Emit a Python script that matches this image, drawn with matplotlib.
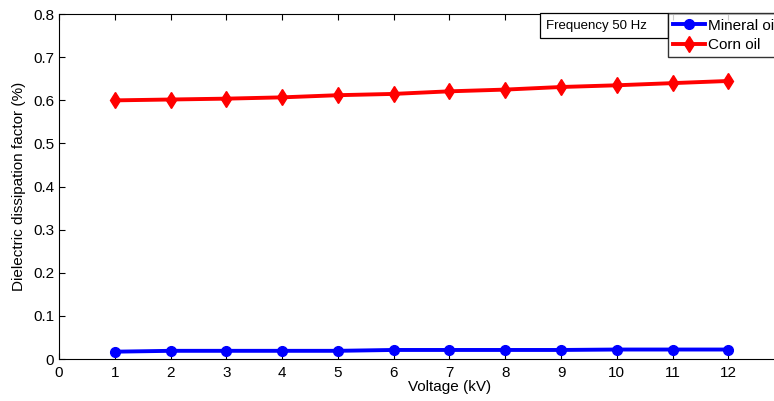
import matplotlib.pyplot as plt
from matplotlib.patches import Rectangle

plt.rcParams['font.family'] = ['Liberation Sans', 'DejaVu Sans']

# voltage steps and dissipation factor readings
voltage = [1, 2, 3, 4, 5, 6, 7, 8, 9, 10, 11, 12]
mineral_oil = [0.017, 0.019, 0.019, 0.019, 0.019, 0.021, 0.021, 0.021, 0.021, 0.022, 0.022, 0.022]
corn_oil = [0.600, 0.602, 0.604, 0.607, 0.612, 0.615, 0.621, 0.625, 0.631, 0.635, 0.640, 0.645]
x_ticks = list(range(0, 15))
x_labels = [str(t) if t <= 12 else '' for t in x_ticks]

fig = plt.figure(figsize=(7.74, 4.01), dpi=100)
ax = fig.add_axes([0.0762, 0.1047, 1.009, 0.860])

ax.plot(voltage, mineral_oil, color='blue', lw=2.8, marker='o', ms=7, label='Mineral oil')
ax.plot(voltage, corn_oil, color='red', lw=2.8, marker='d', ms=8, label='Corn oil')

ax.set_xlim(0, 14)
ax.set_ylim(0, 0.8)
ax.set_xticks(x_ticks)
ax.set_xticklabels(x_labels)
ax.set_yticks([0, 0.1, 0.2, 0.3, 0.4, 0.5, 0.6, 0.7, 0.8])
ax.set_yticklabels(['0', '0.1', '0.2', '0.3', '0.4', '0.5', '0.6', '0.7', '0.8'])
ax.tick_params(direction='in', top=True, right=True, labelsize=11, length=4)
ax.tick_params(axis='x', pad=5)
ax.set_xlabel('Voltage (kV)', fontsize=11, labelpad=0)
ax.set_ylabel('Dielectric dissipation factor (%)', fontsize=11, labelpad=5)

# pixel -> axes fraction helpers (axes left at 59 px, 781 px wide, top at 14 px, 345 px tall)
def fx(px):
    return (px - 59) / 781

def fy(py):
    return 1 - (py - 14) / 345

leg = ax.legend(loc='upper left', bbox_to_anchor=(fx(668), fy(13)), fontsize=11,
                frameon=True, fancybox=False, edgecolor='black', borderpad=0.35,
                handlelength=2.1, labelspacing=0.35, borderaxespad=0, handletextpad=0.2)
leg.get_frame().set_linewidth(1.0)

ax.add_patch(Rectangle((fx(540), fy(38)), fx(668) - fx(540), fy(13) - fy(38),
                       transform=ax.transAxes, facecolor='white', edgecolor='black',
                       lw=0.9, zorder=5, clip_on=False))
ax.text(fx(546), fy(25.5), 'Frequency 50 Hz', transform=ax.transAxes, fontsize=9.5,
        va='center', ha='left', zorder=6)

fig.savefig('out.png', dpi=100)
